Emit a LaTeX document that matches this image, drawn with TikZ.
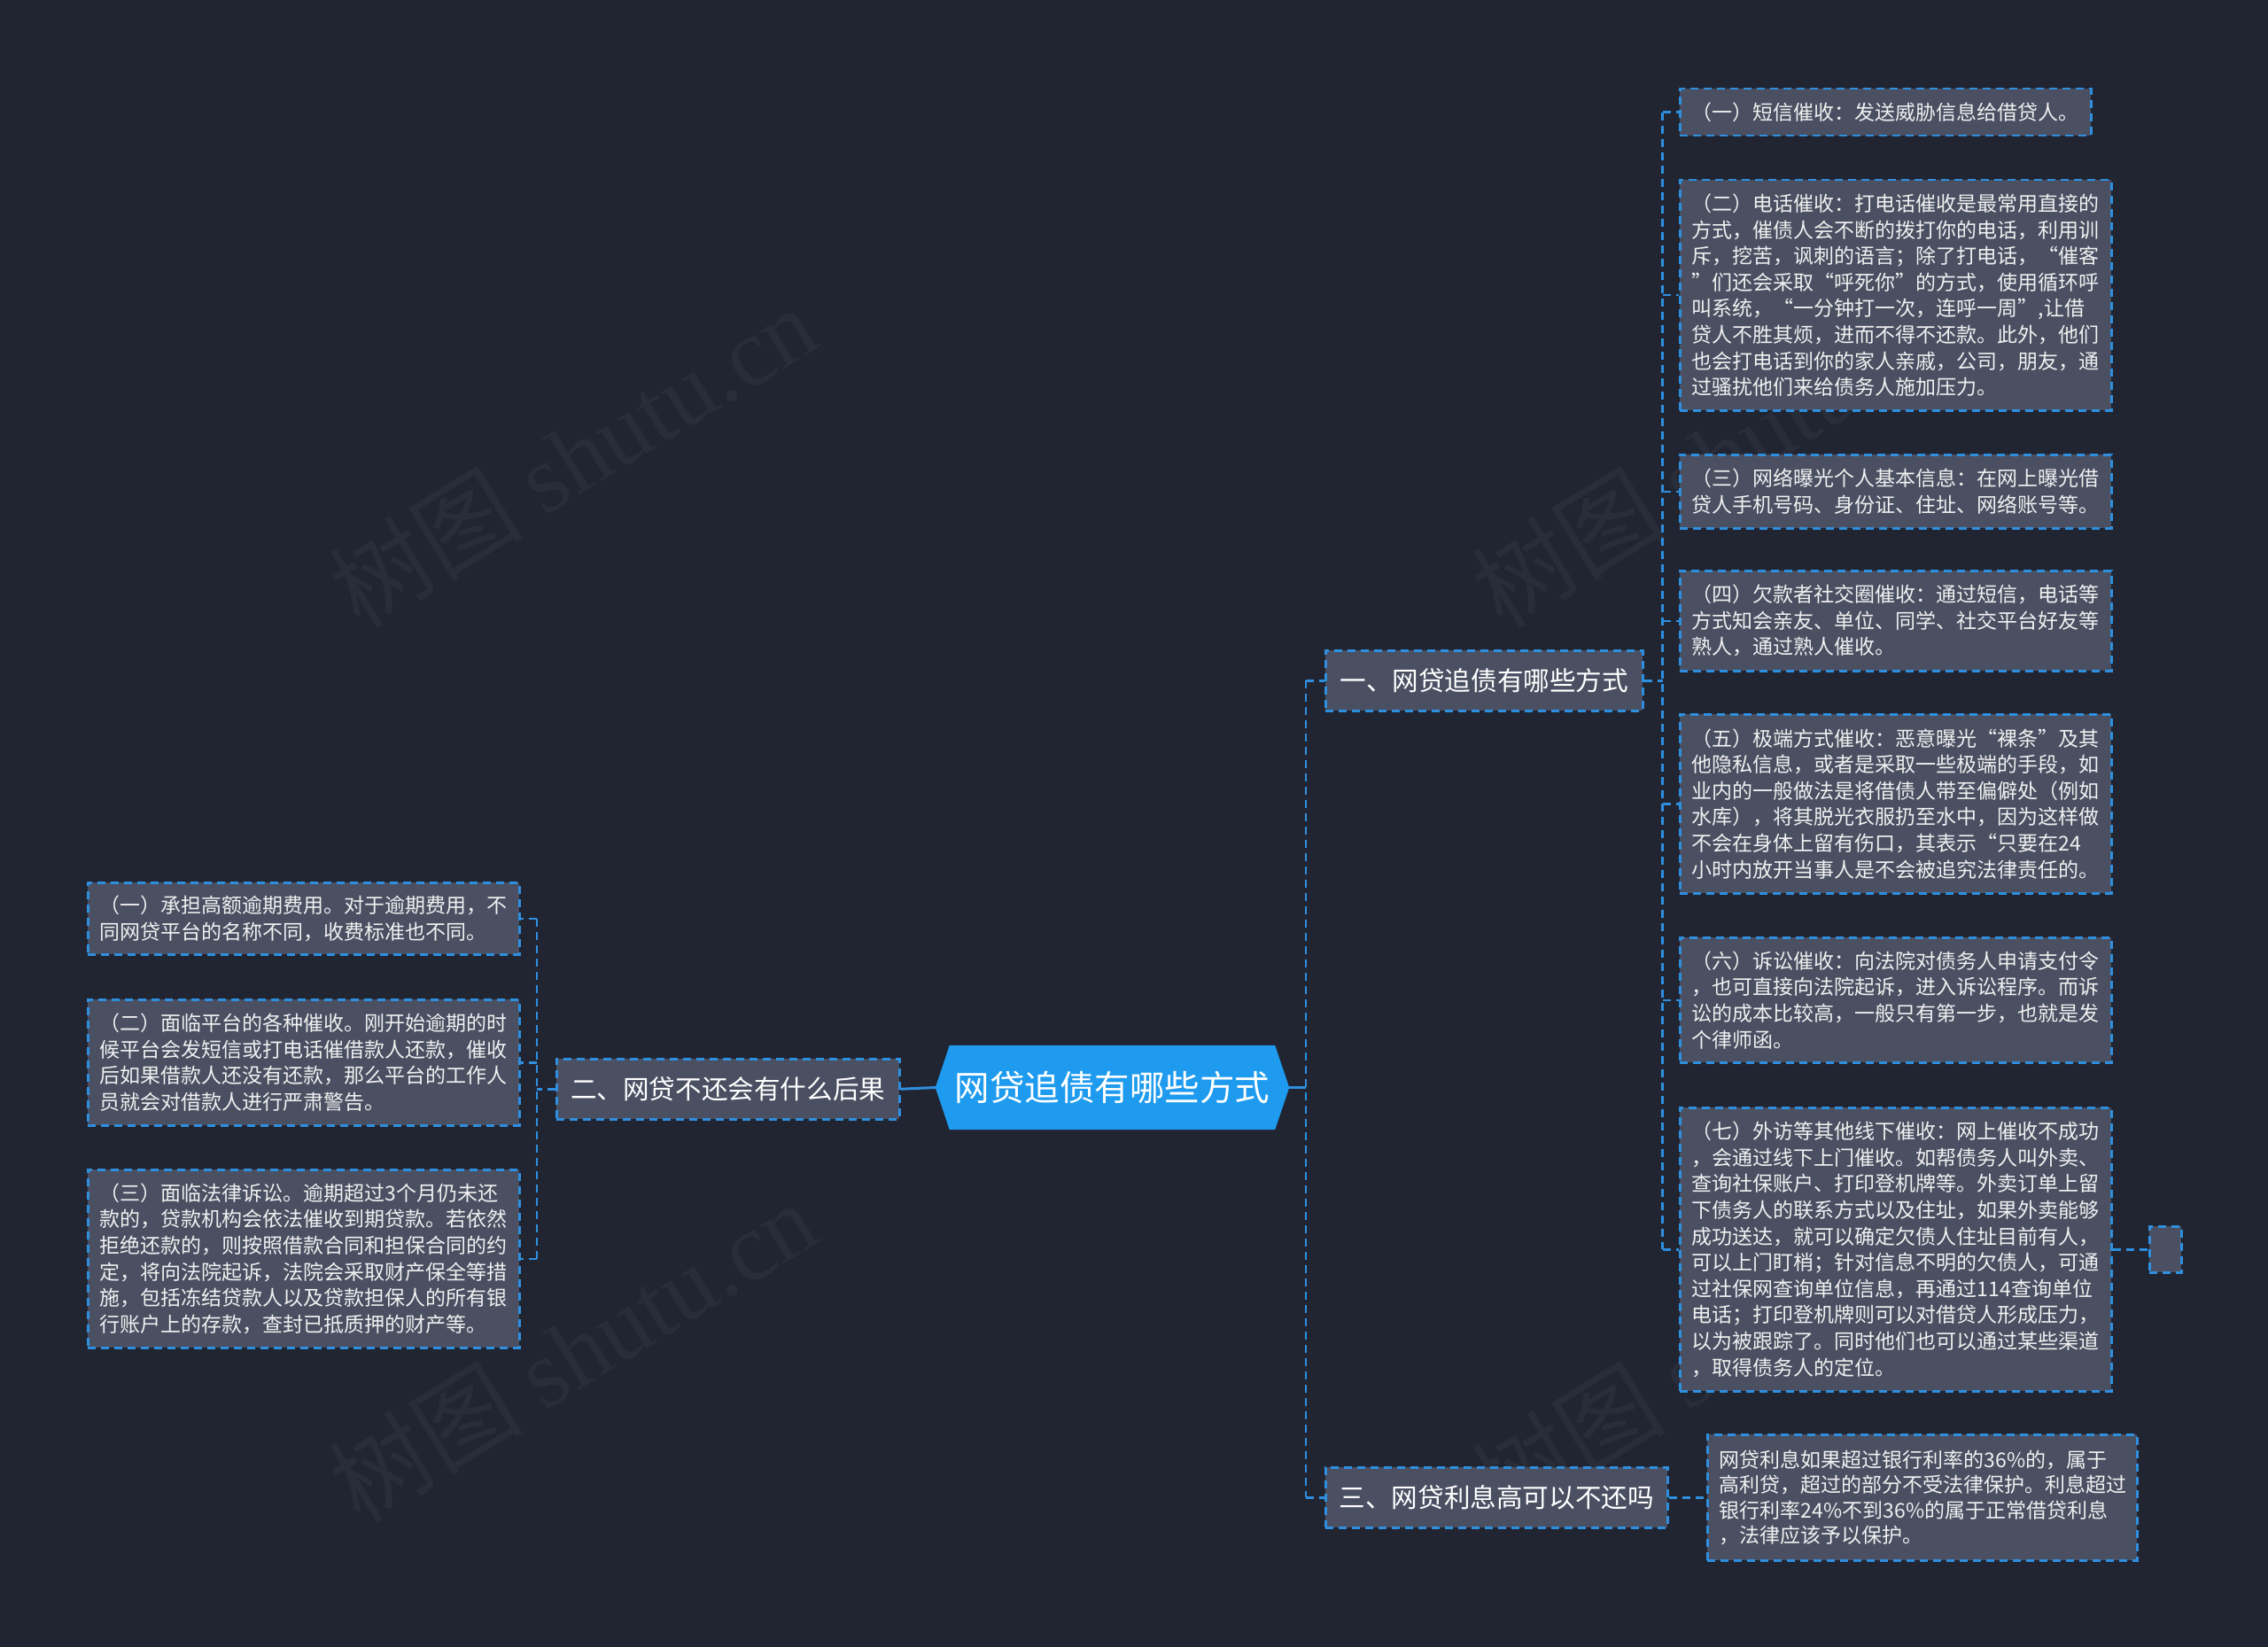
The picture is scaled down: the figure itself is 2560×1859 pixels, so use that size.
\documentclass[tikz,border=0pt]{standalone}
\usepackage{fontspec}
\setmainfont{Noto Sans CJK SC}
\newfontfamily\wmserif{Liberation Serif}
\usetikzlibrary{calc}
\definecolor{bgc}{HTML}{212532}
\definecolor{leaff}{HTML}{4A5062}
\definecolor{dashc}{HTML}{2E8FDF}
\definecolor{rootc}{HTML}{1E9BEF}
\definecolor{txtc}{HTML}{F0F0F0}
\definecolor{wmc}{HTML}{292D3A}
\pgfdeclarelayer{back}
\pgfdeclarelayer{mid}
\pgfsetlayers{back,mid,main}
\begin{document}
\begin{tikzpicture}[x=1pt,y=-1pt,
  dsh/.style={draw=dashc, line width=2.5pt, dash pattern=on 9pt off 6pt},
  leaf/.style={dsh, fill=leaff, text=txtc, font=\fontsize{23}{29.6}\selectfont, text width=460pt, align=left, inner xsep=13.5pt, inner ysep=4pt, anchor=north west},
  branch/.style={dsh, fill=leaff, text=white, font=\fontsize{29.6}{34}\selectfont, inner xsep=0pt, inner ysep=0pt, minimum height=68pt, anchor=north west, align=center},
  conn/.style={draw=dashc, line width=2.5pt, dash pattern=on 9pt off 6pt},
  solidconn/.style={draw=dashc, line width=3pt},
  wm/.style={text=wmc, rotate=31.6, font=\fontsize{110}{120}\selectfont, inner sep=0pt}
]
\useasboundingbox (0,0) rectangle (2560,1859);
\begin{pgfonlayer}{back}
\fill[bgc] (0,0) rectangle (2560,1859);
\node[wm] (wm1) at (646,515) {树图 {\wmserif shutu.cn}};
\node[wm] (wm2) at (1936,515) {树图 {\wmserif shutu.cn}};
\node[wm] (wm3) at (646,1525) {树图 {\wmserif shutu.cn}};
\node[wm] (wm4) at (1936,1525) {树图 {\wmserif shutu.cn}};
\end{pgfonlayer}

% root
\node[inner sep=0pt, minimum width=399pt, minimum height=95pt, text=white, font=\fontsize{39.5}{45}\selectfont] (root) at (1255.5,1227.5) {网贷追债有哪些方式};
\begin{pgfonlayer}{mid}
\fill[rootc] (root.west) -- ([xshift=16pt]root.north west) -- ([xshift=-16pt]root.north east) -- (root.east) -- ([xshift=-16pt]root.south east) -- ([xshift=16pt]root.south west) -- cycle;
\end{pgfonlayer}

% branches
\node[branch, minimum width=358pt] (b1) at (1495,733) {一、网贷追债有哪些方式};
\node[branch, minimum width=387pt] (b2) at (627,1194) {二、网贷不还会有什么后果};
\node[branch, minimum width=386pt] (b3) at (1495,1655) {三、网贷利息高可以不还吗};

% right leaves
\node[leaf, text width=437pt, minimum height=53pt] (r1) at (1895,99) {（一）短信催收：发送威胁信息给借贷人。};
\node[leaf, minimum height=260pt] (r2) at (1895,202) {（二）电话催收：打电话催收是最常用直接的\\方式，催债人会不断的拨打你的电话，利用训\\斥，挖苦，讽刺的语言；除了打电话，“催客\\”们还会采取“呼死你”的方式，使用循环呼\\叫系统，“一分钟打一次，连呼一周”,让借\\贷人不胜其烦，进而不得不还款。此外，他们\\也会打电话到你的家人亲戚，公司，朋友，通\\过骚扰他们来给债务人施加压力。};
\node[leaf, minimum height=83pt] (r3) at (1895,512) {（三）网络曝光个人基本信息：在网上曝光借\\贷人手机号码、身份证、住址、网络账号等。};
\node[leaf, minimum height=113pt] (r4) at (1895,643) {（四）欠款者社交圈催收：通过短信，电话等\\方式知会亲友、单位、同学、社交平台好友等\\熟人，通过熟人催收。};
\node[leaf, minimum height=202pt] (r5) at (1895,805) {（五）极端方式催收：恶意曝光“裸条”及其\\他隐私信息，或者是采取一些极端的手段，如\\业内的一般做法是将借债人带至偏僻处（例如\\水库），将其脱光衣服扔至水中，因为这样做\\不会在身体上留有伤口，其表示“只要在24\\小时内放开当事人是不会被追究法律责任的。};
\node[leaf, minimum height=141pt] (r6) at (1895,1057) {（六）诉讼催收：向法院对债务人申请支付令\\，也可直接向法院起诉，进入诉讼程序。而诉\\讼的成本比较高，一般只有第一步，也就是发\\个律师函。};
\node[leaf, minimum height=320pt] (r7) at (1895,1249) {（七）外访等其他线下催收：网上催收不成功\\，会通过线下上门催收。如帮债务人叫外卖、\\查询社保账户、打印登机牌等。外卖订单上留\\下债务人的联系方式以及住址，如果外卖能够\\成功送达，就可以确定欠债人住址目前有人，\\可以上门盯梢；针对信息不明的欠债人，可通\\过社保网查询单位信息，再通过114查询单位\\电话；打印登机牌则可以对借贷人形成压力，\\以为被跟踪了。同时他们也可以通过某些渠道\\，取得债务人的定位。};
\node[leaf, text width=458pt, minimum height=142pt, font=\fontsize{23}{28.4}\selectfont] (r8) at (1926,1618) {网贷利息如果超过银行利率的36\%的，属于\\高利贷，超过的部分不受法律保护。利息超过\\银行利率24\%不到36\%的属于正常借贷利息\\，法律应该予以保护。};
\node[dsh, fill=leaff, inner sep=0pt, minimum width=36pt, minimum height=52pt, anchor=north west] (tiny) at (2425,1383) {};

% left leaves
\node[leaf, minimum height=81pt] (l1) at (98,995) {（一）承担高额逾期费用。对于逾期费用，不\\同网贷平台的名称不同，收费标准也不同。};
\node[leaf, minimum height=142pt] (l2) at (98,1127) {（二）面临平台的各种催收。刚开始逾期的时\\候平台会发短信或打电话催借款人还款，催收\\后如果借款人还没有还款，那么平台的工作人\\员就会对借款人进行严肃警告。};
\node[leaf, minimum height=201pt] (l3) at (98,1319) {（三）面临法律诉讼。逾期超过3个月仍未还\\款的，贷款机构会依法催收到期贷款。若依然\\拒绝还款的，则按照借款合同和担保合同的约\\定，将向法院起诉，法院会采取财产保全等措\\施，包括冻结贷款人以及贷款担保人的所有银\\行账户上的存款，查封已抵质押的财产等。};

% trunk
\coordinate (tj) at ([xshift=19pt]root.east);
\draw[solidconn] (root.east) -- (tj);
\draw[conn] (tj |- b1.west) -- (tj |- b3.west);
\draw[conn] (tj |- b1.west) -- (b1.west);
\draw[conn] (tj |- b3.west) -- (b3.west);

% left side
\draw[solidconn] (root.west) -- (b2.east);
\coordinate (lj) at ([xshift=-21pt]b2.west);
\draw[conn] (b2.west) -- (lj);
\draw[conn] (lj |- l1.east) -- (lj |- l3.east);
\foreach \n in {l1,l2,l3} \draw[conn] (lj |- \n.east) -- (\n.east);

% branch 1
\coordinate (rj) at ([xshift=21pt]b1.east);
\draw[conn] (b1.east) -- (rj);
\draw[conn] (rj |- r1.west) -- (rj |- r7.west);
\foreach \n in {r1,r2,r3,r4,r5,r6,r7} \draw[conn] (rj |- \n.west) -- (\n.west);

% branch 3 and tiny
\draw[conn] (b3.east) -- (r8.west);
\draw[conn] (r7.east) -- (tiny.west);
\end{tikzpicture}
\end{document}
